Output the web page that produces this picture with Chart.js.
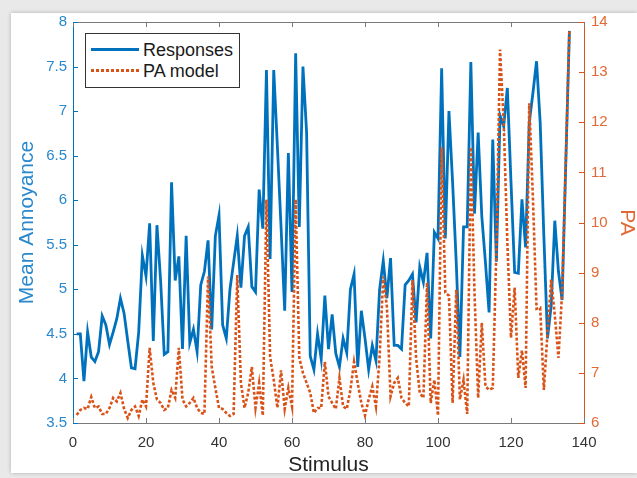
<!DOCTYPE html>
<html>
<head>
<meta charset="utf-8">
<script src="https://cdn.jsdelivr.net/npm/chart.js@4.4.1/dist/chart.umd.min.js"></script>
<style>
  html, body { margin: 0; padding: 0; width: 637px; height: 478px; overflow: hidden; background: #e9e9e9; }
  #card { position: absolute; left: 11px; top: 13px; width: 626px; height: 460px; background: #fff; box-shadow: 0 0 4px rgba(0,0,0,0.25); }
  #wrap { position: absolute; left: 0; top: 0; width: 637px; height: 478px; }
  #legend { position: absolute; left: 85px; top: 33px; width: 153px; height: 53px; border: 1px solid #333; background: #fff;
            font-family: "Liberation Sans", Arial, sans-serif; font-size: 18px; color: #1a1a1a; }
  #legend .row { position: absolute; left: 5px; height: 22px; line-height: 22px; }
  #legend .swatch { position: absolute; left: 0; top: 9px; width: 48px; height: 3px; }
  #legend .label { position: absolute; left: 52px; top: 0; white-space: nowrap; }
</style>
</head>
<body>
<div id="card"></div>
<div id="wrap"><canvas id="myChart"></canvas></div>
<div id="legend">
  <div class="row" style="top:5px"><div class="swatch" style="background:#0072BD"></div><span class="label">Responses</span></div>
  <div class="row" style="top:26px"><div class="swatch" style="background:repeating-linear-gradient(to right,#D95319 0 3px,transparent 3px 5px)"></div><span class="label">PA model</span></div>
</div>
<script>
// mean annoyance per stimulus (left axis)
var responses = [
  4.5, 4.5, 3.97, 4.52, 4.24, 4.19, 4.3, 4.7, 4.6, 4.38,
  4.52, 4.67, 4.9, 4.73, 4.42, 4.12, 4.11, 4.52, 5.38, 5.15,
  5.74, 4.42, 5.72, 5.1, 4.27, 4.3, 6.2, 5.1, 5.37, 4.33,
  5.6, 4.4, 4.55, 4.3, 5.05, 5.2, 5.55, 4.55, 5.6, 5.83,
  4.6, 4.45, 5.0, 5.3, 5.6, 5.02, 5.6, 5.7, 5.03, 4.97,
  6.12, 5.68, 7.46, 5.34, 7.46, 6.6, 5.7, 4.76, 6.53, 4.97,
  7.65, 5.7, 7.5, 6.76, 4.25, 4.1, 4.5, 4.22, 4.93, 4.33,
  4.72, 4.28, 4.13, 4.45, 4.29, 5.0, 5.17, 4.13, 4.76, 4.45,
  4.1, 4.37, 4.2, 5.0, 5.32, 4.9, 5.35, 4.37, 4.37, 4.33,
  5.05, 5.1, 5.17, 4.63, 5.25, 5.08, 5.41, 4.45, 5.64, 5.57,
  7.48, 5.57, 7.0, 6.2, 5.3, 4.24, 5.7, 5.7, 7.55, 5.85,
  6.76, 5.82, 5.3, 4.74, 6.68, 5.31, 6.95, 6.83, 7.26, 6.2,
  5.19, 5.18, 6.01, 5.47, 6.87, 7.2, 7.56, 6.87, 5.6, 4.45,
  4.81, 5.77, 5.2, 4.88, 6.4, 7.9
];
// PA model output per stimulus (right axis)
var paModel = [
  6.16, 6.26, 6.3, 6.28, 6.52, 6.3, 6.33, 6.18, 6.18, 6.3,
  6.5, 6.43, 6.6, 6.28, 6.1, 6.26, 6.33, 6.14, 6.47, 6.33,
  7.5, 6.8, 6.47, 6.4, 6.26, 6.3, 6.66, 6.5, 7.5, 6.47,
  6.33, 6.4, 6.5, 6.3, 6.2, 6.18, 8.92, 7.12, 6.7, 6.3,
  6.28, 6.2, 6.14, 6.18, 8.95, 6.8, 6.3, 6.6, 7.12, 6.3,
  6.8, 6.15, 10.46, 7.32, 6.86, 6.3, 7.05, 6.28, 6.7, 6.33,
  10.46, 7.3, 7.0, 6.8, 6.6, 6.2, 6.3, 6.3, 7.22, 6.53,
  6.4, 6.28, 6.9, 6.33, 6.28, 6.66, 7.22, 6.8, 6.4, 6.15,
  6.47, 6.73, 6.33, 7.32, 8.92, 8.32, 6.53, 6.8, 6.9, 6.5,
  6.4, 6.33, 8.85, 7.3, 6.6, 6.5, 8.8, 6.4, 6.86, 6.15,
  11.5, 8.6, 8.54, 6.4, 8.66, 6.47, 6.86, 6.18, 11.5, 8.6,
  6.5, 8.0, 6.73, 6.66, 6.7, 9.5, 13.45, 12.0, 9.6, 7.7,
  8.7, 6.9, 7.45, 6.7, 12.38, 10.5, 8.28, 8.3, 6.66, 7.8,
  8.86, 8.15, 7.3, 8.6, 11.2, 13.84
];
var stimulus = responses.map(function (v, i) { return i + 1; });

var blue = '#0072BD';
var orange = '#D95319';
var font = '"Liberation Sans", Arial, sans-serif';

// MATLAB style numbers: 8, 7.5, 7 ...
function plain(v) { return String(Math.round(v * 10) / 10); }

// box on top plus inward tick marks, like the MATLAB axes
var frame = {
  id: 'frame',
  afterDraw: function (chart) {
    var ctx = chart.ctx, a = chart.chartArea, s = chart.scales;
    ctx.save();
    ctx.lineWidth = 1;
    ctx.strokeStyle = '#7a7a7a';
    ctx.beginPath();
    ctx.moveTo(a.left, a.top + 0.5); ctx.lineTo(a.right, a.top + 0.5);
    s.x.ticks.forEach(function (t) {
      var px = Math.round(s.x.getPixelForValue(t.value)) + 0.5;
      ctx.moveTo(px, a.bottom); ctx.lineTo(px, a.bottom - 5);
      ctx.moveTo(px, a.top); ctx.lineTo(px, a.top + 5);
    });
    ctx.stroke();
    ctx.strokeStyle = blue;
    ctx.beginPath();
    s.y.ticks.forEach(function (t) {
      var py = Math.round(s.y.getPixelForValue(t.value)) + 0.5;
      ctx.moveTo(a.left, py); ctx.lineTo(a.left + 5, py);
    });
    ctx.stroke();
    ctx.strokeStyle = orange;
    ctx.beginPath();
    s.y1.ticks.forEach(function (t) {
      var py = Math.round(s.y1.getPixelForValue(t.value)) + 0.5;
      ctx.moveTo(a.right, py); ctx.lineTo(a.right - 5, py);
    });
    ctx.stroke();
    ctx.restore();
  }
};

var ctx = document.getElementById('myChart').getContext('2d');
var myChart = new Chart(ctx, {
    type: 'line',
    data: {
        datasets: [{
            label: 'PA model',
            data: stimulus.map(function (x, i) { return {x: x, y: paModel[i]}; }),
            yAxisID: 'y1',
            borderColor: orange,
            borderWidth: 2.6,
            borderDash: [3, 2],
            pointRadius: 0,
            tension: 0
        }, {
            label: 'Responses',
            data: stimulus.map(function (x, i) { return {x: x, y: responses[i]}; }),
            yAxisID: 'y',
            borderColor: blue,
            borderWidth: 2.8,
            pointRadius: 0,
            tension: 0
        }]
    },
    plugins: [frame],
    options: {
        responsive: true,
        maintainAspectRatio: false,
        animation: false,
        layout: { padding: { top: 22, left: 0, right: 0, bottom: 0 } },
        plugins: {
            legend: { display: false },
            tooltip: { enabled: false }
        },
        scales: {
            x: {
                type: 'linear',
                min: 0,
                max: 140,
                afterFit: function (s) { s.height = 55; },
                ticks: { stepSize: 20, color: '#333', font: { family: font, size: 15 }, padding: 11 },
                grid: { display: true, drawOnChartArea: false, drawTicks: false },
                border: { color: '#7a7a7a', width: 1 },
                title: { display: true, text: 'Stimulus', color: '#222', font: { family: font, size: 21, lineHeight: 1 }, padding: { top: 0, bottom: 2 } }
            },
            y: {
                position: 'left',
                min: 3.5,
                max: 8,
                afterFit: function (s) { s.width = 73; },
                ticks: { stepSize: 0.5, color: '#2a88cc', font: { family: font, size: 15 }, padding: 6, callback: plain },
                grid: { display: true, drawOnChartArea: false, drawTicks: false },
                border: { color: blue, width: 1 },
                title: { display: true, text: 'Mean Annoyance', color: '#2a88cc', font: { family: font, size: 21, lineHeight: 1 }, padding: { top: 17, bottom: 0 } }
            },
            y1: {
                position: 'right',
                min: 6,
                max: 14,
                afterFit: function (s) { s.width = 53; },
                ticks: { stepSize: 1, color: '#e06a35', font: { family: font, size: 15 }, padding: 7, callback: plain },
                grid: { display: true, drawOnChartArea: false, drawTicks: false },
                border: { color: orange, width: 1 },
                title: { display: true, text: 'PA', color: '#e06a35', font: { family: font, size: 21, lineHeight: 1 }, padding: { top: 0, bottom: 0 } }
            }
        }
    }
});
</script>
</body>
</html>
